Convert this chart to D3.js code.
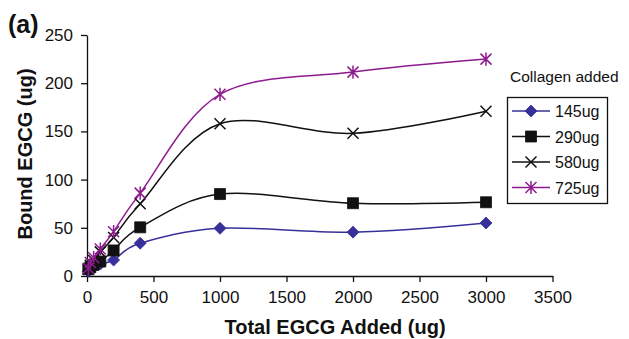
<!DOCTYPE html>
<html><head><meta charset="utf-8">
<script src="https://cdn.jsdelivr.net/npm/d3@7"></script>
<style>body{margin:0;background:#fff}svg{display:block}text{font-family:"Liberation Sans",Arial,Helvetica,sans-serif}</style>
</head><body><svg id="c" width="629" height="339"></svg>
<script>
const xValues = [10, 25, 50, 100, 200, 400, 1000, 2000, 3000];
const s145 = [5, 7, 9, 12.5, 16.5, 34, 49.5, 45.5, 55];
const s290 = [7, 9, 11.5, 15, 26.5, 50.5, 85, 75.5, 76.5];
const s580 = [7, 11, 16, 25, 40, 75, 158, 148, 171];
const s725 = [8, 14, 19, 28, 46, 86, 188.5, 211.5, 225];
const seriesNames = ["145ug", "290ug", "580ug", "725ug"];
const xTicks = [0, 500, 1000, 1500, 2000, 2500, 3000, 3500];
const yTicks = [0, 50, 100, 150, 200, 250];

const series = [
  {name: seriesNames[0], values: s145, color: "#38309a", marker: "diamond"},
  {name: seriesNames[1], values: s290, color: "#111111", marker: "square"},
  {name: seriesNames[2], values: s580, color: "#111111", marker: "x"},
  {name: seriesNames[3], values: s725, color: "#8e1b8e", marker: "star"}
];

const svg = d3.select("#c");
const x = d3.scaleLinear().domain([0, 3500]).range([87, 552.5]);
const y = d3.scaleLinear().domain([0, 250]).range([276, 35]);

// axes
const xAxis = svg.append("g").attr("transform", "translate(0,276)")
  .call(d3.axisBottom(x).tickValues(xTicks).tickFormat(d3.format("d")).tickSize(6).tickPadding(6).tickSizeOuter(0));
const yAxis = svg.append("g").attr("transform", "translate(87,0)")
  .call(d3.axisLeft(y).tickValues(yTicks).tickFormat(d3.format("d")).tickSize(6).tickPadding(8).tickSizeOuter(0));
[xAxis, yAxis].forEach(a => {
  a.selectAll("path,line").attr("stroke", "#111").attr("stroke-width", 1.3);
  a.selectAll("text").attr("fill", "#111").style("font-size", "17px").style("font-family", "'Liberation Sans',Arial,sans-serif");
});
xAxis.selectAll("text").attr("dy", "0.9em");

function markerPath(type, s) {
  if (type === "diamond") return `M0,${-s}L${s},0L0,${s}L${-s},0Z`;
  if (type === "square") return `M${-s},${-s}H${s}V${s}H${-s}Z`;
  if (type === "x") return `M${-s},${-s}L${s},${s}M${-s},${s}L${s},${-s}`;
  return `M${-s},${-s}L${s},${s}M${-s},${s}L${s},${-s}M0,${-s*1.2}V${s*1.2}`;
}
function drawMarker(g, d, cx, cy) {
  const m = d.marker;
  const s = m === "diamond" ? 6 : 5.5;
  const p = g.append("path").attr("transform", `translate(${cx},${cy})`).attr("d", markerPath(m, s));
  if (m === "diamond" || m === "square") p.attr("fill", d.color).attr("stroke", d.color).attr("stroke-width", 0.8);
  else p.attr("fill", "none").attr("stroke", d.color).attr("stroke-width", 1.5);
}

const line = d3.line().x((v, i) => x(xValues[i])).y(v => y(v)).curve(d3.curveCardinal.tension(0));
series.forEach(d => {
  svg.append("path").attr("d", line(d.values)).attr("fill", "none")
    .attr("stroke", d.color).attr("stroke-width", 1.5);
});
series.forEach(d => {
  const g = svg.append("g");
  d.values.forEach((v, i) => drawMarker(g, d, x(xValues[i]), y(v)));
});

// legend
svg.append("text").attr("x", 510).attr("y", 82).text("Collagen added").style("font-size", "15.5px").attr("fill", "#111");
svg.append("rect").attr("x", 507.5).attr("y", 97.5).attr("width", 100).attr("height", 106)
  .attr("fill", "#fff").attr("stroke", "#111").attr("stroke-width", 1.3);
series.forEach((d, i) => {
  const cy = 111 + i * 25.5;
  svg.append("line").attr("x1", 512).attr("x2", 550).attr("y1", cy).attr("y2", cy)
    .attr("stroke", d.color).attr("stroke-width", 1.5);
  drawMarker(svg, d, 531, cy);
  svg.append("text").attr("x", 555).attr("y", cy + 6).text(d.name).style("font-size", "16px").attr("fill", "#111");
});

// titles
svg.append("text").attr("x", 335).attr("y", 334).attr("text-anchor", "middle")
  .style("font-size", "20px").style("font-weight", "bold").attr("fill", "#111").text("Total EGCG Added (ug)");
svg.append("text").attr("transform", "translate(32,154) rotate(-90)").attr("text-anchor", "middle")
  .style("font-size", "20px").style("font-weight", "bold").attr("fill", "#111").text("Bound EGCG (ug)");
svg.append("text").attr("x", 8).attr("y", 33)
  .style("font-size", "25px").style("font-weight", "bold").attr("fill", "#111").text("(a)");
</script></body></html>
